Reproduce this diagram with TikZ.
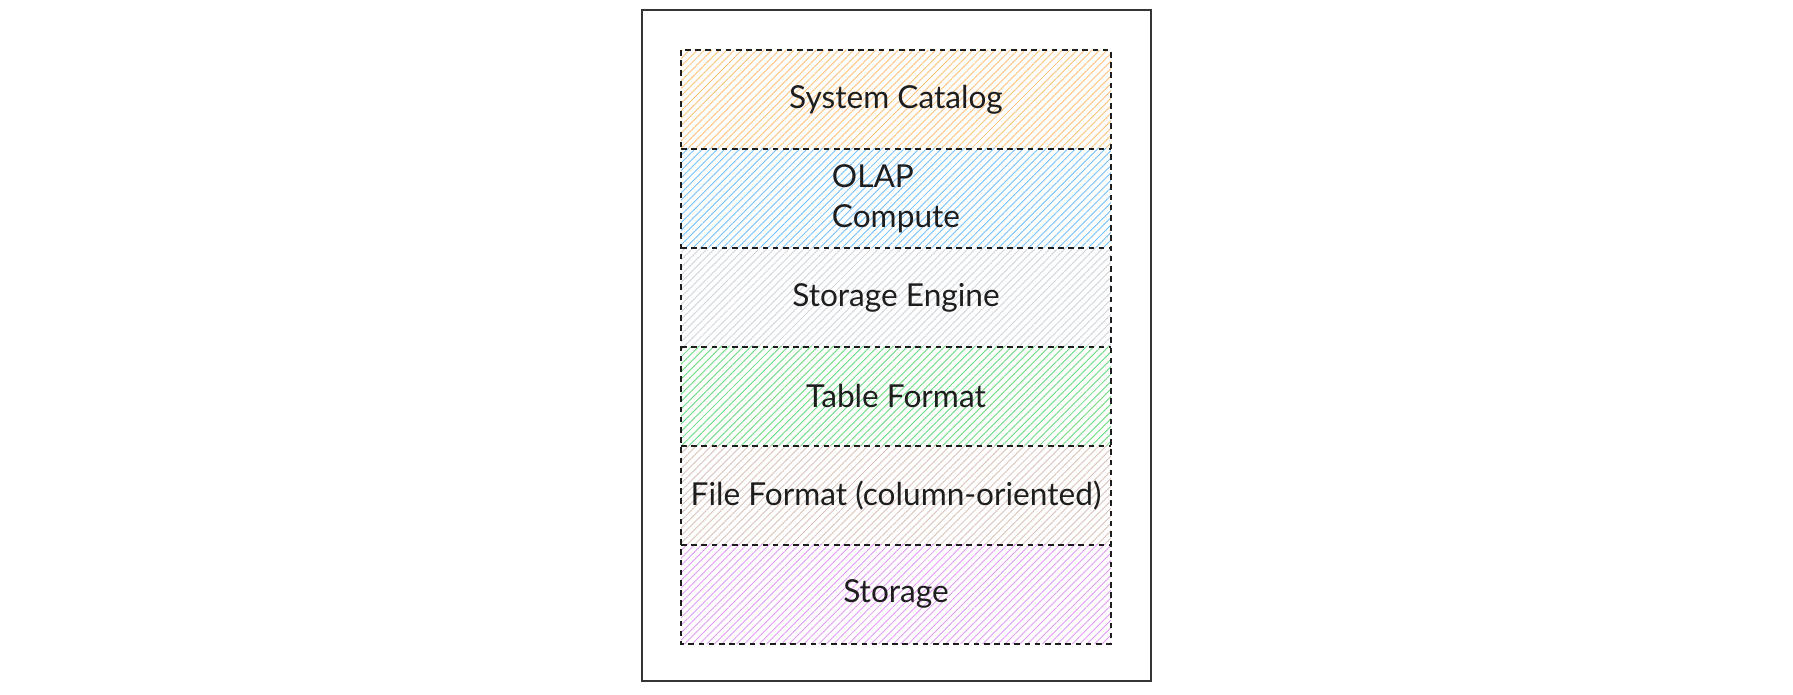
\documentclass[tikz,border=0pt]{standalone}
\usepackage{fontspec}
\setmainfont{Lato}
\usetikzlibrary{positioning,patterns.meta}

\definecolor{catalogc}{HTML}{FFC078}
\definecolor{computec}{HTML}{74C0FC}
\definecolor{enginec}{HTML}{CED4DA}
\definecolor{tablec}{HTML}{69DB7C}
\definecolor{filec}{HTML}{D8C3BA}
\definecolor{storec}{HTML}{E599F7}
\definecolor{inkc}{HTML}{1E1E1E}

\tikzset{
  layer/.style={minimum width=8.6cm, minimum height=1.98cm, inner sep=0pt, outer sep=0pt,
    pattern={Lines[angle=45,distance=3pt,line width=0.5pt]}, pattern color=#1,
    font=\fontsize{18}{23}\selectfont, text=inkc},
  edge/.style={draw=inkc, line width=0.8pt, dash pattern=on 3.2pt off 2.6pt},
}

\begin{document}
\begin{tikzpicture}[x=0.02cm, y=-0.02cm]
\useasboundingbox (0,0) rectangle (1793,695);

\draw[inkc!90, line width=0.85pt] (642,10) rectangle (1151,681);

\node[layer=catalogc] (catalog) at (896,99.5) {System Catalog};
\node[layer=computec, below=0pt of catalog, align=left] (compute) {OLAP\\Compute};
\node[layer=enginec, below=0pt of compute] (engine) {Storage Engine};
\node[layer=tablec, below=0pt of engine] (table) {Table Format};
\node[layer=filec, below=0pt of table] (file) {File Format (column-oriented)};
\node[layer=storec, below=0pt of file] (storage) {Storage};

% dashed borders
\draw[edge] (catalog.north west) rectangle (storage.south east);
\foreach \n in {catalog,compute,engine,table,file}
  \draw[edge] (\n.south west) -- (\n.south east);

\end{tikzpicture}
\end{document}
